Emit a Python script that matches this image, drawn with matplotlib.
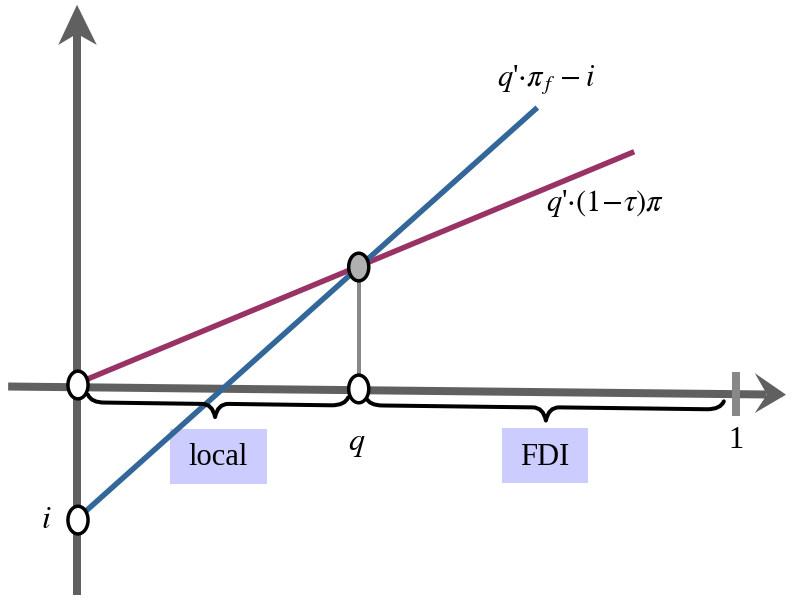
import matplotlib.pyplot as plt
from matplotlib.patches import Ellipse, Polygon, PathPatch, Rectangle
from matplotlib.path import Path

plt.rcParams['mathtext.fontset'] = 'stix'
plt.rcParams['font.family'] = ['Liberation Serif', 'DejaVu Serif']

# model values (x = q, y = profit), axis unit = distance from 0 to 1
q_local = [0.0, 0.844]
v_local = [0.003, 0.354]
q_fdi = [0.0, 0.697]
v_fdi = [-0.202, 0.421]
q_star = 0.426
v_star = 0.179
i_val = -0.205
regions = ['local', 'FDI']
region_span = [(0.015, 0.208, 0.41), (0.437, 0.71, 0.98)]
# box centre x, centre y, width
region_box = [(0.2132, -0.1085, 0.147), (0.7087, -0.1077, 0.1305)]
label_fdi = r"$q$'$\cdot\pi_{\,f}\,-i$"
label_local = r"$q$'$\cdot(1\!-\!\tau)\pi$"

GRAY = '#606060'
LGRAY = '#888888'
BLUE = '#336699'
MAROON = '#993366'

PX = 659.0  # pixels per unit
fig = plt.figure(figsize=(7.92, 6.02), dpi=100)
ax = fig.add_axes([0, 0, 1, 1])
ax.set_xlim(-78 / PX, 714 / PX)
ax.set_ylim(-217 / PX, 385 / PX)
ax.axis('off')

tilt = -0.0105  # the x axis sags a little to the right


def ax_y(x):
    return -0.0023 + tilt * (x + 0.106)


# vertical axis
ax.plot([-0.0015, -0.0015], [-0.319, 0.535], color=GRAY, lw=8 * 0.72,
        solid_capstyle='butt', zorder=1)
ax.add_patch(Polygon([(-0.0015, 0.577), (-0.030, 0.516), (-0.0015, 0.533),
                      (0.0285, 0.516)], closed=True, color=GRAY, lw=0, zorder=1))
# horizontal axis
ax.plot([-0.106, 1.045], [ax_y(-0.106), ax_y(1.045)], color=GRAY, lw=8 * 0.72,
        solid_capstyle='butt', zorder=1)
ax.add_patch(Polygon([(1.0744, ax_y(1.0744)), (1.027, 0.018), (1.0455, ax_y(1.0455)),
                      (1.027, -0.0425)], closed=True, color=GRAY, lw=0, zorder=1))
# tick at 1
ax.plot([0.9985, 0.9985], [0.0197, -0.047], color=LGRAY, lw=8 * 0.72,
        solid_capstyle='butt', zorder=1)

# profit lines
ax.plot(q_local, v_local, color=MAROON, lw=5.5 * 0.72, solid_capstyle='butt', zorder=2)
ax.plot(q_fdi, v_fdi, color=BLUE, lw=5.5 * 0.72, solid_capstyle='butt', zorder=2)
# drop line
ax.plot([q_star, q_star], [v_star, ax_y(q_star)], color=LGRAY, lw=4 * 0.72, zorder=1.5)


def brace(x0, xm, x1):
    def yb(x):
        return -0.0265 + tilt * x
    d = 0.012
    verts = [(x0, yb(x0) + d), (x0 + 0.005, yb(x0)), (x0 + 0.025, yb(x0)),
             (xm - 0.02, yb(xm)), (xm - 0.004, yb(xm)), (xm, yb(xm) - 0.02),
             (xm + 0.004, yb(xm)), (xm + 0.02, yb(xm)),
             (x1 - 0.025, yb(x1)), (x1 - 0.005, yb(x1)), (x1, yb(x1) + d)]
    codes = [Path.MOVETO, Path.CURVE3, Path.CURVE3, Path.LINETO,
             Path.CURVE3, Path.CURVE3, Path.CURVE3, Path.CURVE3,
             Path.LINETO, Path.CURVE3, Path.CURVE3]
    return PathPatch(Path(verts, codes), fill=False, color='black',
                     lw=4 * 0.72, capstyle='round', joinstyle='round', zorder=2.5)


for (x0, xm, x1) in region_span:
    ax.add_patch(brace(x0, xm, x1))

for name, (xc, yc, w) in zip(regions, region_box):
    h = 0.0835
    ax.add_patch(Rectangle((xc - w / 2, yc - h / 2), w, h, color='#ccccff', lw=0, zorder=1.8))
    ax.text(xc, yc - 0.002, name, ha='center', va='center', fontsize=22, zorder=3)

# nodes
nw, nh = 0.0305, 0.042
for (x, y, fc) in [(0.0, 0.0, 'white'), (q_star, -0.006, 'white'),
                   (0.0, i_val, 'white'), (q_star, v_star, '#b0b0b0')]:
    ax.add_patch(Ellipse((x, y), nw, nh, facecolor=fc, edgecolor='black',
                         lw=2.5, zorder=4))

# labels
ax.text(q_star - 0.003, -0.091, '$q$', ha='center', va='center', fontsize=23)
ax.text(0.9985, -0.084, '1', ha='center', va='center', fontsize=22)
ax.text(-0.048, i_val, '$i$', ha='center', va='center', fontsize=23)
ax.text(0.710, 0.463, label_fdi, ha='center', va='center', fontsize=22)
ax.text(0.80, 0.276, label_local, ha='center', va='center', fontsize=22)

fig.savefig('out.png', dpi=100)
